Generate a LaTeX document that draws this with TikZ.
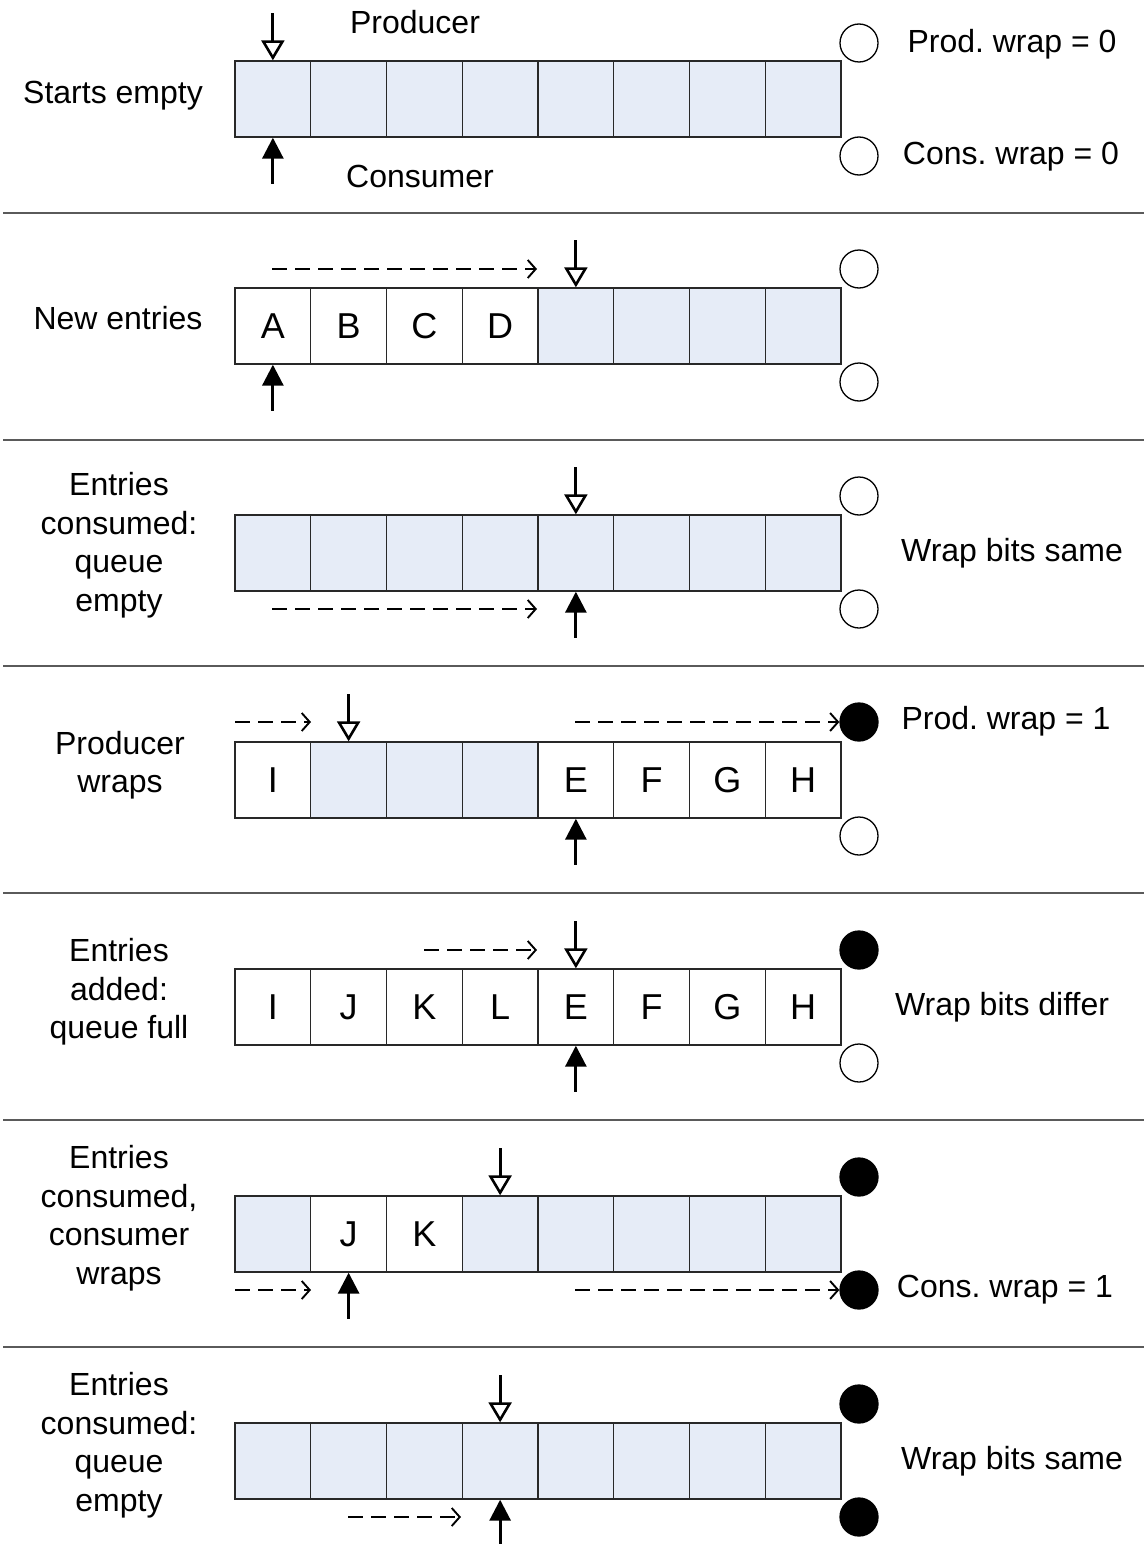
\documentclass[tikz,border=0pt]{standalone}
\usepackage{fontspec}
\setmainfont{Liberation Sans}
\usetikzlibrary{arrows.meta}
\frenchspacing
\definecolor{freecell}{RGB}{230,236,247}
\definecolor{edgecol}{RGB}{40,40,40}
\definecolor{sepcol}{RGB}{90,90,90}
\tikzset{
  txt/.style={font=\fontsize{32}{38.5}\selectfont, inner sep=0pt, align=center},
  cell/.style={draw=edgecol, line width=1.4pt, minimum width=75.75pt, minimum height=76pt, inner sep=0pt, font=\fontsize{36}{40}\selectfont},
  free/.style={cell, fill=freecell},
  full/.style={cell, fill=white},
  bitoff/.style={circle, draw=black, line width=1.3pt, fill=white, minimum size=38pt, inner sep=0pt},
  biton/.style={bitoff, fill=black},
  prodptr/.style={line width=3pt, -{Triangle[open, length=20pt, width=23pt, line width=2.6pt]}},
  consptr/.style={line width=3pt, -{Triangle[length=21pt, width=21pt]}},
  adv/.style={line width=1.9pt, dash pattern=on 15pt off 8pt, -{Straight Barb[length=8pt, width=18pt, line width=1.9pt]}},
  divider/.style={draw=sepcol, line width=2pt},
}
\newcommand\qrow[3]{\foreach \i/\s/\t in {#3} {\node[\s] (#1c\i) at ({235+75.75*(\i+0.5)},#2) {\t};}}
\begin{document}
\begin{tikzpicture}[x=1pt,y=-1pt]
\useasboundingbox (0,0) rectangle (1144,1544);

% separators
\foreach \yy in {213,440,666,893,1120,1347} {\draw[divider] (3,\yy) -- (1144,\yy);}

% ---------------- row a : starts empty
\node[txt] (aL) at (113,96) {Starts empty};
\qrow{a}{99}{0/free/{},1/free/{},2/free/{},3/free/{},4/free/{},5/free/{},6/free/{},7/free/{}}
\coordinate (aPs) at ([yshift=47pt]ac0.north);
\coordinate (aCs) at ([yshift=-46pt]ac0.south);
\draw[prodptr] (aPs) -- (ac0.north);
\draw[consptr] (aCs) -- (ac0.south);
\node[txt] (aProd) at (415,22) {Producer};
\node[txt] (aCons) at (420,176) {Consumer};
\node[bitoff] (aT) at (859,43) {};
\node[bitoff] (aB) at (859,156) {};
\node[txt] (aRT) at (1012,44) {Prod. wrap = 0};
\node[txt] (aRB) at (1011,157) {Cons. wrap = 0};

% ---------------- row b : new entries
\node[txt] (bL) at (118,318) {New entries};
\qrow{b}{326}{0/full/A,1/full/B,2/full/C,3/full/D,4/free/{},5/free/{},6/free/{},7/free/{}}
\coordinate (bPs) at ([yshift=47pt]bc4.north);
\coordinate (bCs) at ([yshift=-46pt]bc0.south);
\draw[prodptr] (bPs) -- (bc4.north);
\draw[consptr] (bCs) -- (bc0.south);
\coordinate (bDs) at (272,269);
\coordinate (bDe) at (537,269);
\draw[adv] (bDs) -- (bDe);
\node[bitoff] (bT) at (859,269) {};
\node[bitoff] (bB) at (859,382) {};

% ---------------- row c : queue empty
\node[txt] (cL) at (119,545) {Entries\\consumed:\\queue\\empty};
\qrow{c}{553}{0/free/{},1/free/{},2/free/{},3/free/{},4/free/{},5/free/{},6/free/{},7/free/{}}
\coordinate (cPs) at ([yshift=47pt]cc4.north);
\coordinate (cCs) at ([yshift=-46pt]cc4.south);
\draw[prodptr] (cPs) -- (cc4.north);
\draw[consptr] (cCs) -- (cc4.south);
\coordinate (cDs) at (272,609);
\coordinate (cDe) at (537,609);
\draw[adv] (cDs) -- (cDe);
\node[bitoff] (cT) at (859,496) {};
\node[bitoff] (cB) at (859,609) {};
\node[txt] (cR) at (1012,553) {Wrap bits same};

% ---------------- row d : producer wraps
\node[txt] (dL) at (120,765) {Producer\\wraps};
\qrow{d}{780}{0/full/I,1/free/{},2/free/{},3/free/{},4/full/E,5/full/F,6/full/G,7/full/H}
\coordinate (dPs) at ([yshift=47pt]dc1.north);
\coordinate (dCs) at ([yshift=-46pt]dc4.south);
\draw[prodptr] (dPs) -- (dc1.north);
\draw[consptr] (dCs) -- (dc4.south);
\node[biton] (dT) at (859,722) {};
\node[bitoff] (dB) at (859,836) {};
\coordinate (dDs) at (235,722);
\coordinate (dDe) at (311,722);
\draw[adv] (dDs) -- (dDe);
\coordinate (dD2s) at (575,722);
\draw[adv] (dD2s) -- (dT.west);
\node[txt] (dR) at (1006,721) {Prod. wrap = 1};

% ---------------- row e : queue full
\node[txt] (eL) at (119,992) {Entries\\added:\\queue full};
\qrow{e}{1007}{0/full/I,1/full/J,2/full/K,3/full/L,4/full/E,5/full/F,6/full/G,7/full/H}
\coordinate (ePs) at ([yshift=47pt]ec4.north);
\coordinate (eCs) at ([yshift=-46pt]ec4.south);
\draw[prodptr] (ePs) -- (ec4.north);
\draw[consptr] (eCs) -- (ec4.south);
\coordinate (eDs) at (424,950);
\coordinate (eDe) at (537,950);
\draw[adv] (eDs) -- (eDe);
\node[biton] (eT) at (859,950) {};
\node[bitoff] (eB) at (859,1063) {};
\node[txt] (eR) at (1002,1007) {Wrap bits differ};

% ---------------- row f : consumer wraps
\node[txt] (fL) at (119,1218) {Entries\\consumed,\\consumer\\wraps};
\qrow{f}{1234}{0/free/{},1/full/J,2/full/K,3/free/{},4/free/{},5/free/{},6/free/{},7/free/{}}
\coordinate (fPs) at ([yshift=47pt]fc3.north);
\coordinate (fCs) at ([yshift=-46pt]fc1.south);
\draw[prodptr] (fPs) -- (fc3.north);
\draw[consptr] (fCs) -- (fc1.south);
\node[biton] (fT) at (859,1177) {};
\node[biton] (fB) at (859,1290) {};
\coordinate (fDs) at (235,1290);
\coordinate (fDe) at (311,1290);
\draw[adv] (fDs) -- (fDe);
\coordinate (fD2s) at (575,1290);
\draw[adv] (fD2s) -- (fB.west);
\node[txt] (fR) at (1005,1290) {Cons. wrap = 1};

% ---------------- row g : queue empty again
\node[txt] (gL) at (119,1445) {Entries\\consumed:\\queue\\empty};
\qrow{g}{1461}{0/free/{},1/free/{},2/free/{},3/free/{},4/free/{},5/free/{},6/free/{},7/free/{}}
\coordinate (gPs) at ([yshift=47pt]gc3.north);
\coordinate (gCs) at ([yshift=-46pt]gc3.south);
\draw[prodptr] (gPs) -- (gc3.north);
\draw[consptr] (gCs) -- (gc3.south);
\coordinate (gDs) at (348,1517);
\coordinate (gDe) at (461,1517);
\draw[adv] (gDs) -- (gDe);
\node[biton] (gT) at (859,1404) {};
\node[biton] (gB) at (859,1517) {};
\node[txt] (gR) at (1012,1461) {Wrap bits same};
\end{tikzpicture}
\end{document}
